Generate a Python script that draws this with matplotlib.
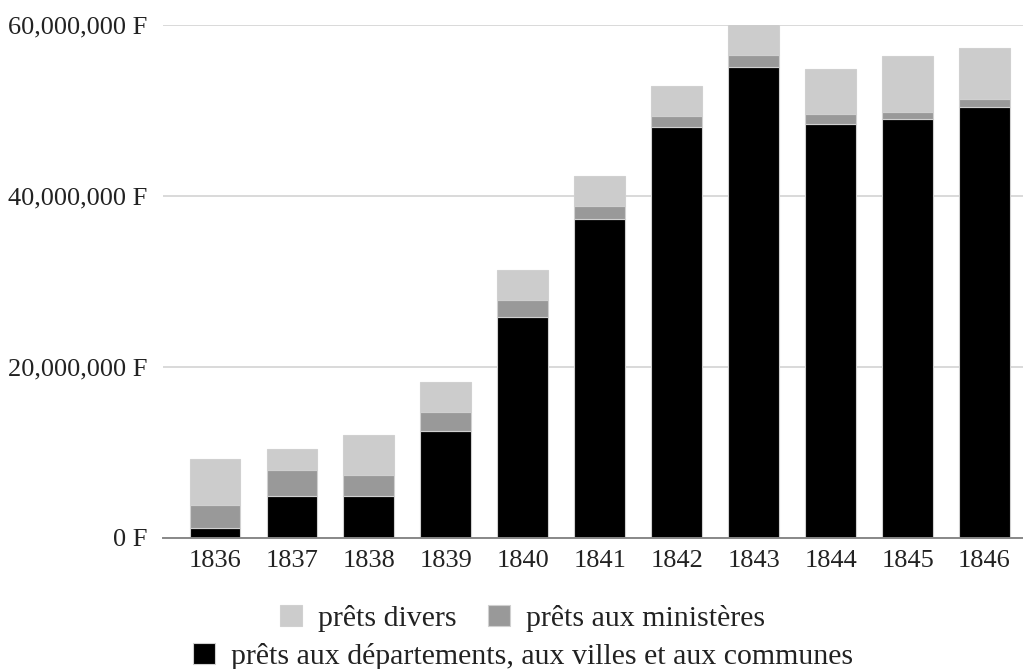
import matplotlib.pyplot as plt
from matplotlib.ticker import FuncFormatter

plt.rcParams['font.family'] = ['Liberation Serif', 'DejaVu Serif']

# Data (francs)
years = ["1836", "1837", "1838", "1839", "1840", "1841",
         "1842", "1843", "1844", "1845", "1846"]
departements = [1.2e6, 4.92e6, 4.92e6, 12.56e6, 25.9e6, 37.3e6,
                48.1e6, 55.1e6, 48.5e6, 49.0e6, 50.5e6]
ministeres = [2.6e6, 3.0e6, 2.4e6, 2.2e6, 1.95e6, 1.5e6,
              1.3e6, 1.4e6, 1.1e6, 0.9e6, 0.9e6]
divers = [5.45e6, 2.45e6, 4.75e6, 3.5e6, 3.5e6, 3.6e6,
          3.5e6, 4.0e6, 5.3e6, 6.55e6, 5.95e6]

labels = ["prêts divers", "prêts aux ministères",
          "prêts aux départements, aux villes et aux communes"]
colors = ["#cccccc", "#999999", "#000000"]

fig = plt.figure(figsize=(10.23, 6.69), dpi=100)
ax = fig.add_axes([0.159, 0.196, 0.841, 0.766])

x = range(len(years))
w = 0.66
edge = dict(edgecolor="#d0d0d0", linewidth=0.8)
b1 = ax.bar(x, departements, w, color=colors[2], zorder=3, **edge)
b2 = ax.bar(x, ministeres, w, bottom=departements, color=colors[1], zorder=3, **edge)
bottom2 = [a + b for a, b in zip(departements, ministeres)]
b3 = ax.bar(x, divers, w, bottom=bottom2, color=colors[0], zorder=3, **edge)

ax.set_ylim(0, 60e6)
ax.set_xlim(-0.68, 10.5)
ax.set_yticks([0, 20e6, 40e6, 60e6])
ax.yaxis.set_major_formatter(FuncFormatter(lambda v, p: f"{int(v):,} F"))
ax.set_xticks(list(x))
ax.set_xticklabels(years)
ax.tick_params(axis="both", length=0, labelsize=19, colors="#222222")
ax.tick_params(axis="y", pad=11)
ax.tick_params(axis="x", pad=9)

ax.grid(axis="y", color="#d9d9d9", linewidth=1.4, zorder=0)
for s in ["top", "right", "left"]:
    ax.spines[s].set_visible(False)
ax.spines["bottom"].set_color("#888888")
ax.spines["bottom"].set_linewidth(1.4)
ax.spines["bottom"].set_zorder(4)

leg_kw = dict(frameon=False, fontsize=21.5, handlelength=0.74, handleheight=0.74,
              handletextpad=0.54, columnspacing=1.04, borderpad=0, labelcolor="#222222")
fig.legend([b3, b2], labels[:2], loc="center", ncol=2,
           bbox_to_anchor=(0.511, 0.076), **leg_kw)
fig.legend([b1], labels[2:], loc="center", ncol=1,
           bbox_to_anchor=(0.511, 0.019), **leg_kw)

fig.savefig("out.png", dpi=100)
